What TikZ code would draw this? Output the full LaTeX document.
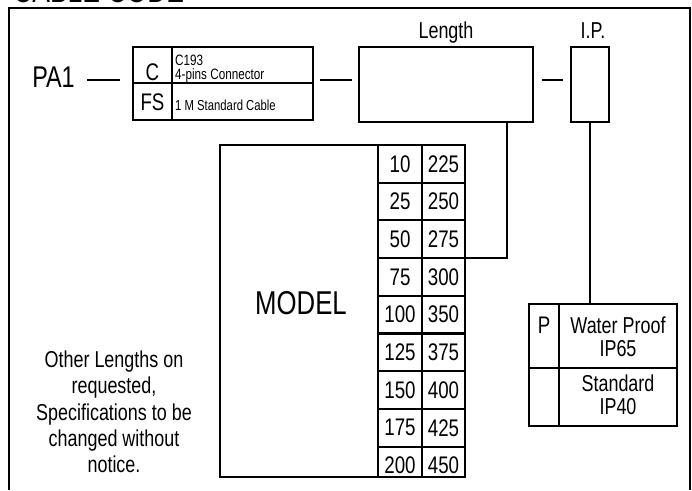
\documentclass[tikz,border=0pt]{standalone}
\usepackage{fontspec}
\setmainfont{Liberation Sans}[FakeStretch=0.78]
\newcommand\fsz[1]{\fontsize{#1}{#1}\selectfont}
\begin{document}
\begin{tikzpicture}[x=1pt,y=-1pt,
  box/.style={draw,line width=2.3pt,inner sep=0pt,outer sep=0pt,anchor=north west},
  lab/.style={inner sep=0pt,anchor=base},
  lab west/.style={inner sep=0pt,anchor=base west},
  conn/.style={line width=2pt},
  grid line/.style={line width=2.1pt},
  frame line/.style={line width=1.6pt}]
\useasboundingbox (0,0) rectangle (692,490);
% title (cut by the page edge)
\node[lab west,font=\fsz{34}] (title) at (13,2.5) {CABLE CODE};
% outer frame
\draw[frame line] (9,490) -- (9,8) -- (690,8) -- (690,490);

% PA1 and first box
\node[lab,font=\fsz{30}] (pa1) at (53.5,87) {PA1};
\coordinate (d1a) at (87,80); \coordinate (d1b) at (120,80);
\draw[conn] (d1a) -- (d1b);
\node[box,minimum width=180pt,minimum height=73pt] (cfs) at (133,47) {};
\draw[grid line] (172,47) -- (172,120) (133,83) -- (313,83);
\node[lab,font=\fsz{24}] (c) at (152.5,80) {C};
\node[lab,font=\fsz{24}] (fs) at (152.5,110) {FS};
\node[lab west,font=\fsz{15}] (c193) at (175,65) {C193};
\node[lab west,font=\fsz{15}] (pins) at (175,79.5) {4-pins Connector};
\node[lab west,font=\fsz{14.5}] (cable) at (175,110) {1 M Standard Cable};

% length box
\coordinate (d2a) at (320,80); \coordinate (d2b) at (352,80);
\draw[conn] (d2a) -- (d2b);
\node[box,minimum width=174pt,minimum height=75pt] (len) at (359,47) {};
\node[lab,font=\fsz{23}] (lenlab) at (446,38) {Length};

% IP box
\coordinate (d3a) at (542,80); \coordinate (d3b) at (563,80);
\draw[conn] (d3a) -- (d3b);
\node[box,minimum width=38pt,minimum height=75pt] (ip) at (571,47) {};
\node[lab,font=\fsz{23}] (iplab) at (593,38) {I.P.};

% model and number table
\node[box,minimum width=158pt,minimum height=332pt] (model) at (220,145) {};
\node[inner sep=0pt,font=\fsz{33}] (modellab) at (301,303) {MODEL};
\node[box,minimum width=87pt,minimum height=332pt] (numtab) at (378,145) {};
\draw[grid line] (422,145) -- (422,477);
\foreach \k in {1,...,8} {
  \pgfmathsetmacro\yy{145+37.7*\k}
  \draw[grid line] (378,\yy) -- (465,\yy);
}
\foreach \a/\b [count=\i] in {10/225,25/250,50/275,75/300,100/350,125/375,150/400,175/425,200/450} {
  \pgfmathsetmacro\yc{145+37.7*(\i-0.5)}
  \node[inner sep=0pt,font=\fsz{24}] (na\i) at (400,\yc) {\a};
  \node[inner sep=0pt,font=\fsz{24}] (nb\i) at (443.5,\yc) {\b};
}
\coordinate (r3) at (465,258.1);
\draw[conn] ([xshift=-26pt]len.south east) |- (r3);

% IP table
\node[box,minimum width=148pt,minimum height=122pt] (ptab) at (529,304) {};
\draw[grid line] (559,304) -- (559,426) (529,368) -- (677,368);
\draw[conn] (ip.south) -- (ip.south |- ptab.north);
\node[lab,font=\fsz{24}] (p) at (544,333) {P};
\node[lab,font=\fsz{23}] (wp) at (618,333) {Water Proof};
\node[lab,font=\fsz{23}] (ip65) at (618,356) {IP65};
\node[lab,font=\fsz{23}] (std) at (618,391) {Standard};
\node[lab,font=\fsz{23}] (ip40) at (618,414) {IP40};

% notes
\node[lab,font=\fsz{23}] (n1) at (114,367.5) {Other Lengths on};
\node[lab,font=\fsz{23}] (n2) at (114,393.8) {requested,};
\node[lab,font=\fsz{23}] (n3) at (114,420.1) {Specifications to be};
\node[lab,font=\fsz{23}] (n4) at (114,446.4) {changed without};
\node[lab,font=\fsz{23}] (n5) at (114,472.7) {notice.};
\end{tikzpicture}
\end{document}
